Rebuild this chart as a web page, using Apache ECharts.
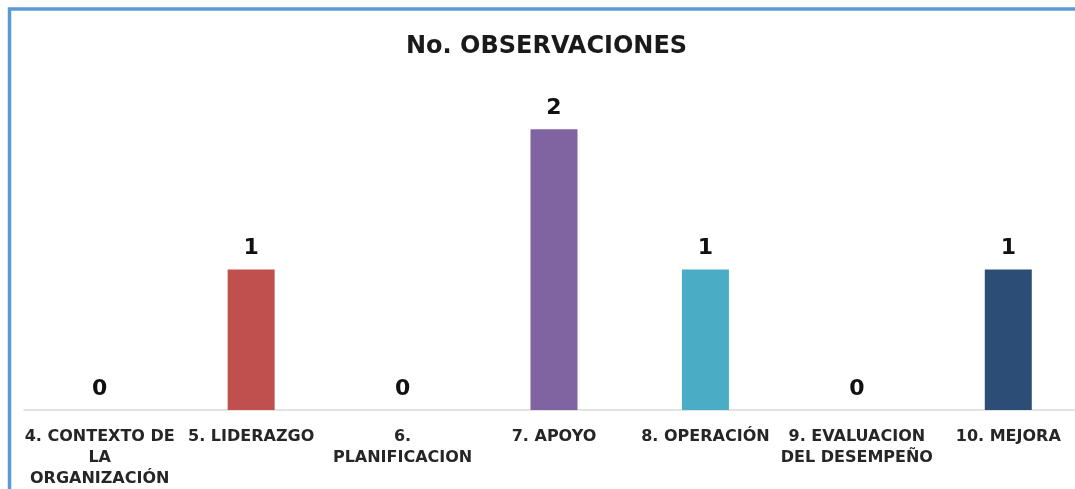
<!DOCTYPE html>
<html>
<head>
<meta charset="utf-8">
<script src="https://cdn.jsdelivr.net/npm/echarts@6/dist/echarts.min.js"></script>
<style>
html, body { margin: 0; padding: 0; background: #fff; overflow: hidden; }
#chart { width: 1095px; height: 489px; }
</style>
</head>
<body>
<div id="chart"></div>
<script>
const categories = [
  '4. CONTEXTO DE\nLA\nORGANIZACIÓN',
  '5. LIDERAZGO',
  '6.\nPLANIFICACION',
  '7. APOYO',
  '8. OPERACIÓN',
  '9. EVALUACION\nDEL DESEMPEÑO',
  '10. MEJORA'
]
const observaciones = [0, 1, 0, 2, 1, 0, 1]
const barColors = ['#4F81BD', '#C0504D', '#9BBB59', '#8064A2', '#4BACC6', '#F79646', '#2C4D75']

const chart = echarts.init(document.getElementById('chart'))
chart.setOption({
  backgroundColor: '#fff',
  animation: false,
  title: {
    text: 'No. OBSERVACIONES',
    left: 401,
    top: 30,
    textStyle: {
      fontFamily: 'DejaVu Sans',
      fontWeight: 'bold',
      fontSize: 24,
      color: '#1a1a1a'
    }
  },
  graphic: [{
    type: 'rect',
    shape: { x: 9.5, y: 9, width: 1120, height: 520 },
    style: { fill: 'none', stroke: '#5B9BD5', lineWidth: 3.5 },
    silent: true
  }],
  grid: { left: 24, width: 1060, top: 59, bottom: 76 },
  xAxis: {
    type: 'category',
    data: categories,
    axisLine: { lineStyle: { color: '#d9d9d9', width: 1.5 } },
    axisTick: { show: false },
    axisLabel: {
      interval: 0,
      margin: 16,
      fontFamily: 'DejaVu Sans',
      fontWeight: 'bold',
      fontSize: 16,
      lineHeight: 21,
      color: '#262626'
    }
  },
  yAxis: {
    type: 'value',
    min: 0,
    max: 2.5,
    show: false,
    splitLine: { show: false }
  },
  series: [{
    name: 'No. OBSERVACIONES',
    type: 'bar',
    barWidth: 47,
    data: observaciones.map((v, i) => ({
      value: v,
      itemStyle: { color: barColors[i] }
    })),
    label: {
      show: true,
      position: 'top',
      distance: 10,
      fontFamily: 'DejaVu Sans',
      fontWeight: 'bold',
      fontSize: 22,
      color: '#111'
    }
  }]
})
</script>
</body>
</html>
